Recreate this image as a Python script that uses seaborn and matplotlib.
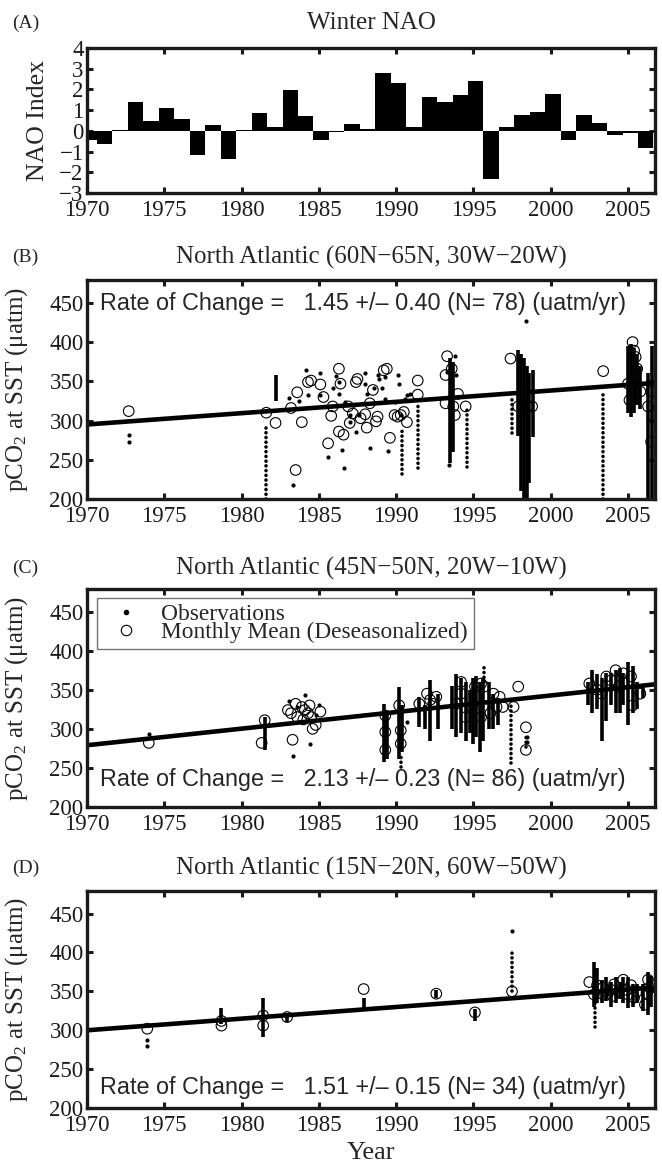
import numpy as np
import seaborn as sns
import matplotlib.pyplot as plt
from matplotlib.lines import Line2D

sns.set_theme(style="ticks")
plt.rcParams['font.family'] = ['Liberation Serif', 'DejaVu Serif']
plt.rcParams['mathtext.fontset'] = 'custom'
plt.rcParams['mathtext.rm'] = 'Liberation Serif'
plt.rcParams['mathtext.it'] = 'Liberation Serif:italic'
plt.rcParams['axes.edgecolor'] = 'k'
plt.rcParams['xtick.color'] = 'k'
plt.rcParams['ytick.color'] = 'k'

# (A) winter NAO index
nao_years = list(range(1970, 2007))
nao_values = [-0.45, -0.65, 0.05, 1.40, 0.45, 1.10, 0.55, -1.15, 0.30, -1.38,
              0.03, 0.85, 0.20, 1.95, 0.70, -0.42, -0.05, 0.32, 0.10, 2.80,
              2.33, 0.18, 1.62, 1.38, 1.75, 2.38, -2.33, 0.16, 0.76, 0.93,
              1.78, -0.45, 0.76, 0.38, -0.22, -0.12, -0.83]

# (B) 60N-65N, 30W-20W
b_mean_year = [1972.7, 1981.6, 1982.2, 1983.2, 1983.5, 1983.6, 1983.9, 1984.3, 1984.5, 1985.1,
               1985.3, 1985.6, 1985.8, 1985.9, 1986.3, 1986.4, 1986.3, 1986.6, 1987.0, 1987.4,
               1987.2, 1987.7, 1988.0, 1988.1, 1988.5, 1988.8, 1988.7, 1989.2, 1989.6, 1989.9,
               1990.1, 1990.3, 1990.5, 1990.7, 1991.4, 1991.4, 1993.2, 1993.3, 1993.2, 1993.6,
               1993.7, 1993.8, 1994.0, 1994.5, 1997.4, 1997.9, 1998.2, 1998.5, 1998.8, 2003.4,
               2005.0, 2005.1, 2005.3, 2005.4, 2005.5, 2005.6, 2005.8, 2006.3, 2006.5, 2006.6,
               2006.5, 1989.4, 1987.5, 1986.9, 1988.3]
b_mean_pco2 = [312, 310, 297, 316, 237, 336, 298, 349, 351, 346,
               330, 271, 306, 318, 366, 347, 286, 282, 297, 349,
               309, 303, 308, 291, 339, 305, 299, 364, 278, 307,
               305, 307, 311, 298, 351, 333, 358, 382, 322, 366,
               318, 307, 334, 318, 379, 318, 318, 318, 318, 363,
               347, 326, 400, 389, 381, 366, 337, 318, 337, 307,
               273, 366, 353, 318, 322]
b_obs_year = [1972.7, 1972.7, 1983.3, 1983.1, 1983.7, 1984.2, 1984.3, 1985.1, 1985.1, 1985.6,
              1985.9, 1986.1, 1986.3, 1986.3, 1986.5, 1986.6, 1986.7, 1987.0, 1987.0, 1987.3,
              1987.4, 1987.6, 1988.0, 1988.0, 1988.1, 1988.3, 1988.6, 1988.8, 1988.9, 1989.1,
              1989.3, 1989.3, 1989.5, 1989.9, 1990.1, 1990.2, 1990.3, 1990.6, 1990.7, 1990.9,
              1993.3, 1993.8, 1993.9, 1993.4, 1998.4]
b_obs_pco2 = [282, 273, 218, 329, 325, 364, 333, 360, 332, 253,
              341, 357, 349, 334, 263, 240, 324, 307, 298, 320,
              286, 307, 360, 347, 334, 265, 341, 358, 353, 341,
              328, 355, 261, 324, 358, 347, 307, 328, 332, 334,
              362, 382, 358, 244, 427]
b_dense_year = [1982.2, 1993.5, 1993.7, 1997.9, 1998.1, 1998.3, 1998.5, 1998.6, 1998.85,
                2005.0, 2005.2, 2005.4, 2005.6, 2005.8, 2006.3, 2006.55]
b_dense_low = [325, 246, 260, 280, 210, 200, 200, 220, 279,
               310, 305, 310, 320, 315, 200, 200]
b_dense_high = [358, 380, 375, 390, 385, 380, 370, 360, 364,
                395, 398, 392, 385, 370, 360, 395]
b_sparse_year = [1981.6, 1991.4, 1990.4, 1994.6, 1997.5, 2003.4]
b_sparse_low = [200, 240, 232, 241, 284, 200]
b_sparse_high = [296, 324, 288, 317, 330, 335]
b_fit_year = [1970, 2006.75]
b_fit_pco2 = [295, 348]

# (C) 45N-50N, 20W-10W
c_mean_year = [1974.0, 1981.5, 1981.3, 1983.3, 1983.0, 1983.2, 1983.6, 1983.9, 1984.1, 1984.3,
               1984.5, 1984.6, 1984.8, 1985.1, 1983.5, 1984.0, 1984.4, 1989.3, 1989.3, 1989.3,
               1990.2, 1990.3, 1990.3, 1991.5, 1992.0, 1992.2, 1992.4, 1992.6, 1993.9, 1994.2,
               1994.2, 1994.5, 1994.9, 1995.1, 1995.3, 1995.5, 1995.7, 1996.1, 1996.3, 1996.5,
               1996.9, 1996.7, 1995.5, 1997.6, 1997.9, 1998.4, 1998.4, 2002.5, 2003.0, 2003.6,
               2004.2, 2004.4, 2004.7, 2005.2, 2005.3, 2003.3, 2003.9, 2005.8]
c_mean_pco2 = [282, 311, 282, 286, 324, 320, 315, 328, 324, 320,
               315, 300, 305, 322, 332, 312, 330, 317, 296, 273,
               330, 298, 281, 332, 345, 337, 332, 341, 332, 360,
               345, 315, 328, 354, 341, 315, 354, 320, 345, 328,
               328, 341, 358, 328, 354, 302, 273, 358, 350, 367,
               375, 354, 371, 367, 330, 345, 362, 345]
c_obs_year = [1974.0, 1983.3, 1984.4, 1984.1, 1983.1, 1985.0, 1990.7, 1998.5, 1998.5, 1983.6, 1984.8]
c_obs_pco2 = [294, 265, 280, 343, 336, 330, 309, 290, 283, 328, 318]
c_dense_year = [1981.5, 1989.2, 1989.4, 1990.2, 1990.4, 1991.5, 1991.9, 1992.2, 1992.7, 1993.6,
                1993.9, 1994.2, 1994.5, 1994.8, 1995.0, 1995.2, 1995.4, 1995.6, 1996.0, 1996.3,
                1996.6, 2002.4, 2002.7, 2003.0, 2003.3, 2003.6, 2003.9, 2004.2, 2004.5, 2004.7,
                2005.0, 2005.3, 2005.6, 2006.0]
c_dense_low = [273, 258, 262, 262, 270, 302, 300, 285, 300, 300,
               290, 295, 285, 295, 280, 290, 270, 285, 300, 300,
               305, 330, 320, 325, 285, 310, 330, 320, 320, 330,
               305, 320, 325, 340]
c_dense_high = [315, 332, 318, 354, 330, 341, 330, 362, 345, 355,
                370, 365, 360, 350, 365, 368, 360, 365, 360, 345,
                340, 360, 375, 370, 365, 372, 372, 375, 378, 372,
                385, 380, 360, 358]
c_sparse_year = [1990.3, 1995.7, 1997.45, 1998.4]
c_sparse_low = [251, 360, 256, 277]
c_sparse_high = [265, 382, 332, 295]
c_fit_year = [1970, 2006.75]
c_fit_pco2 = [279, 357]

# (D) 15N-20N, 60W-50W
d_mean_year = [1973.9, 1978.7, 1978.7, 1981.4, 1981.4, 1982.95, 1987.9, 1992.6, 1995.1, 1997.5,
               2002.5, 2002.8, 2003.4, 2003.4, 2003.7, 2004.1, 2004.4, 2004.7, 2005.0, 2005.4,
               2006.1, 2006.2, 2006.3, 2006.4, 2003.0, 2004.0, 2004.9, 2005.6, 2003.9, 2005.2]
d_mean_pco2 = [302, 306, 312, 319, 306, 317, 353, 347, 323, 350,
               362, 346, 355, 346, 348, 359, 350, 365, 346, 342,
               333, 348, 365, 355, 358, 344, 352, 350, 352, 358]
d_obs_year = [1973.9, 1973.9, 1997.5]
d_obs_pco2 = [287, 280, 428]
d_dense_year = [1978.7, 1981.4, 1982.95, 1987.9, 1992.6, 1995.1, 2002.8, 2003.0, 2003.3, 2003.6,
                2003.9, 2004.2, 2004.5, 2004.7, 2005.0, 2005.3, 2005.6, 2006.0, 2006.3, 2006.5]
d_dense_low = [308, 291, 310, 329, 342, 312, 330, 335, 335, 338,
               330, 335, 340, 335, 328, 330, 335, 325, 320, 330]
d_dense_high = [329, 342, 321, 342, 352, 327, 388, 380, 365, 368,
                362, 368, 362, 368, 368, 360, 360, 360, 375, 370]
d_sparse_year = [1997.5, 2002.9]
d_sparse_low = [350, 304]
d_sparse_high = [401, 346]
d_fit_year = [1970, 2006.75]
d_fit_pco2 = [300, 355]

titles = ["Winter NAO",
          "North Atlantic (60N\u221265N, 30W\u221220W)",
          "North Atlantic (45N\u221250N, 20W\u221210W)",
          "North Atlantic (15N\u221220N, 60W\u221250W)"]
notes = ["Rate of Change =   1.45 +/\u2013 0.40 (N= 78) (uatm/yr)",
         "Rate of Change =   2.13 +/\u2013 0.23 (N= 86) (uatm/yr)",
         "Rate of Change =   1.51 +/\u2013 0.15 (N= 34) (uatm/yr)"]

fig = plt.figure(figsize=(6.62, 11.66), dpi=100)
ax_a = fig.add_axes([0.1314, 0.8345, 0.858, 0.1244])
ax_b = fig.add_axes([0.1314, 0.5720, 0.858, 0.1878])
ax_c = fig.add_axes([0.1314, 0.3079, 0.858, 0.1870])
ax_d = fig.add_axes([0.1314, 0.0497, 0.858, 0.1861])


def frame(ax, yticks):
    ax.set_xlim(1970, 2006.75)
    ax.set_xticks(range(1970, 2006, 5))
    ax.set_yticks(yticks)
    ax.set_ylim(yticks[0], yticks[-1])
    ax.tick_params(direction='in', length=4, width=2.2, top=True, right=True,
                   labelsize=16.5, pad=2.5)
    ax.tick_params(axis='x', pad=5)
    for sp in ax.spines.values():
        sp.set_visible(True)
        sp.set_linewidth(2.4)
        sp.set_color('k')
    ax.set_xlabel('')
    ax.set_ylabel('')


# panel A
sns.barplot(x=[y + 0.15 for y in nao_years], y=nao_values, native_scale=True, orient='x',
            width=1, color='black', saturation=1, errorbar=None, linewidth=0, ax=ax_a)
frame(ax_a, [-3, -2, -1, 0, 1, 2, 3, 4])
ax_a.set_ylabel('NAO Index', fontsize=18.5)
ax_a.yaxis.set_label_coords(-0.066, 0.5)


def pco2_panel(ax, dense, sparse, obs, means, fit, note, note_y):
    ax.vlines(dense[0], dense[1], dense[2], color='black', lw=2.6)
    ax.vlines(sparse[0], sparse[1], sparse[2], color='black', lw=2.6,
              linestyles=[(0, (0.01, 1.3))], capstyle='round')
    sns.scatterplot(x=obs[0], y=obs[1], color='black', s=9, linewidth=0, ax=ax)
    sns.scatterplot(x=means[0], y=means[1], color='none', edgecolor='black', s=58,
                    linewidth=0.8, ax=ax)
    sns.lineplot(x=fit[0], y=fit[1], color='black', lw=3.3, ax=ax)
    frame(ax, [200, 250, 300, 350, 400, 450])
    ax.set_ylim(200, 479)
    ax.text(0.023, note_y, note, transform=ax.transAxes, va='center', ha='left',
            fontsize=16.8, family=['Liberation Sans', 'DejaVu Sans'])
    ax.set_ylabel(r'pCO$_2$ at SST ($\mathrm{\mu}$atm)', fontsize=18)
    ax.yaxis.set_label_coords(-0.1, 0.5)


pco2_panel(ax_b, (b_dense_year, b_dense_low, b_dense_high),
           (b_sparse_year, b_sparse_low, b_sparse_high),
           (b_obs_year, b_obs_pco2), (b_mean_year, b_mean_pco2),
           (b_fit_year, b_fit_pco2), notes[0], 0.895)
pco2_panel(ax_c, (c_dense_year, c_dense_low, c_dense_high),
           (c_sparse_year, c_sparse_low, c_sparse_high),
           (c_obs_year, c_obs_pco2), (c_mean_year, c_mean_pco2),
           (c_fit_year, c_fit_pco2), notes[1], 0.125)
pco2_panel(ax_d, (d_dense_year, d_dense_low, d_dense_high),
           (d_sparse_year, d_sparse_low, d_sparse_high),
           (d_obs_year, d_obs_pco2), (d_mean_year, d_mean_pco2),
           (d_fit_year, d_fit_pco2), notes[2], 0.095)

handles = [Line2D([], [], ls='none', marker='o', ms=3, color='black', label='Observations'),
           Line2D([], [], ls='none', marker='o', ms=7.5, mfc='none', mec='black', mew=0.8,
                  label='Monthly Mean (Deseasonalized)')]
leg = ax_c.legend(handles=handles, loc='upper left', bbox_to_anchor=(0.018, 0.96),
                  borderaxespad=0, fontsize=16.8, frameon=True, fancybox=False,
                  edgecolor='0.45', framealpha=1, labelspacing=-0.15, borderpad=0.25,
                  handletextpad=0.5, handlelength=2.0)
leg.get_frame().set_linewidth(1.0)

ax_d.set_xlabel('Year', fontsize=19)
ax_d.xaxis.set_label_coords(0.5, -0.155)

for ax, t, lab, ty in zip([ax_a, ax_b, ax_c, ax_d], titles, ['(A)', '(B)', '(C)', '(D)'],
                          [0.9803, 0.7796, 0.5129, 0.2556]):
    fig.text(0.5604, ty, t, ha='center', va='center', fontsize=18)
    fig.text(0.018, ty, lab, ha='left', va='center', fontsize=14)

fig.savefig('out.png', dpi=100)
